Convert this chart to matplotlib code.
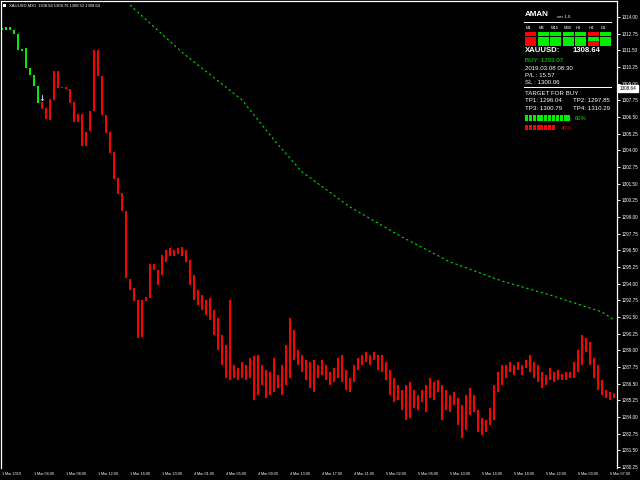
import matplotlib
matplotlib.use("Agg")
import matplotlib.pyplot as plt
from matplotlib.patches import Rectangle
import matplotlib.transforms as mtransforms

# ---------------- data (XAUUSD M30 bars: high / low) ----------------
highs = [1313.18, 1313.25, 1313.25, 1313.03, 1312.73, 1311.60, 1311.68, 1310.18, 1309.65, 1308.83,
         1307.63, 1307.18, 1307.85, 1309.95, 1309.95, 1308.75, 1308.75, 1308.60, 1307.63, 1306.73,
         1306.73, 1305.38, 1306.95, 1311.53, 1311.53, 1309.58, 1306.65, 1305.38, 1303.88, 1301.93,
         1300.80, 1299.45, 1294.35, 1293.68, 1292.78, 1292.78, 1293.00, 1295.48, 1295.48, 1295.03,
         1296.15, 1296.53, 1296.68, 1296.53, 1296.68, 1296.75, 1296.53, 1295.78, 1294.65, 1293.53,
         1293.15, 1292.78, 1292.93, 1292.03, 1291.43, 1290.15, 1289.40, 1292.78, 1287.90, 1287.68,
         1288.13, 1287.90, 1288.43, 1288.58, 1288.65, 1287.90, 1287.53, 1287.38, 1288.43, 1287.15,
         1287.90, 1289.40, 1291.43, 1290.53, 1289.03, 1288.65, 1288.28, 1288.13, 1288.28, 1287.90,
         1288.28, 1287.90, 1287.38, 1287.68, 1288.43, 1288.65, 1287.53, 1286.93, 1287.90, 1288.43,
         1288.65, 1288.88, 1288.65, 1288.88, 1288.65, 1288.65, 1288.13, 1287.53, 1286.93, 1286.40,
         1286.03, 1286.40, 1286.63, 1286.03, 1285.65, 1286.03, 1286.40, 1286.93, 1286.63, 1286.78,
         1286.40, 1286.03, 1285.65, 1285.88, 1285.43, 1284.90, 1285.65, 1286.18, 1285.65, 1284.53,
         1283.93, 1283.78, 1284.68, 1286.40, 1287.38, 1287.90, 1287.90, 1288.13, 1287.90, 1288.13,
         1287.90, 1288.28, 1288.65, 1288.13, 1287.90, 1287.38, 1287.15, 1287.68, 1287.38, 1287.53,
         1287.23, 1287.38, 1287.38, 1288.13, 1289.03, 1290.15, 1289.93, 1289.63, 1288.43, 1287.90,
         1286.78, 1286.03, 1285.88, 1285.80]
lows = [1313.03, 1313.03, 1313.03, 1312.73, 1311.53, 1311.45, 1310.18, 1309.65, 1308.83, 1307.55,
        1307.10, 1306.35, 1306.28, 1307.78, 1308.68, 1308.68, 1308.60, 1307.55, 1306.13, 1306.13,
        1304.33, 1304.33, 1305.45, 1306.95, 1309.58, 1306.65, 1305.30, 1303.80, 1301.85, 1300.73,
        1299.45, 1294.43, 1293.53, 1292.70, 1289.93, 1290.00, 1292.70, 1292.93, 1295.03, 1293.90,
        1294.65, 1295.63, 1296.08, 1296.08, 1296.23, 1296.08, 1295.63, 1293.90, 1292.78, 1292.40,
        1292.03, 1291.65, 1291.28, 1290.15, 1289.03, 1287.90, 1286.93, 1286.78, 1286.93, 1286.78,
        1286.93, 1286.78, 1286.93, 1285.28, 1285.65, 1286.40, 1285.43, 1285.65, 1285.88, 1286.18,
        1285.65, 1286.40, 1286.93, 1288.28, 1287.90, 1287.38, 1286.78, 1286.18, 1285.88, 1286.93,
        1287.15, 1286.78, 1286.40, 1286.63, 1286.93, 1286.63, 1286.03, 1285.88, 1286.63, 1287.53,
        1287.90, 1288.13, 1287.90, 1288.28, 1287.53, 1287.38, 1286.78, 1285.65, 1285.13, 1285.28,
        1284.53, 1283.78, 1283.93, 1284.68, 1284.53, 1285.13, 1284.38, 1285.43, 1285.28, 1285.88,
        1283.78, 1284.53, 1284.38, 1284.90, 1283.40, 1282.43, 1283.03, 1284.15, 1284.38, 1282.88,
        1282.65, 1282.88, 1283.40, 1283.78, 1285.88, 1286.40, 1286.93, 1287.38, 1287.15, 1287.53,
        1287.15, 1287.68, 1287.38, 1286.93, 1286.63, 1286.18, 1286.40, 1286.78, 1286.63, 1286.78,
        1286.78, 1286.78, 1286.93, 1286.93, 1287.38, 1287.90, 1288.88, 1287.90, 1286.93, 1286.03,
        1285.65, 1285.43, 1285.28, 1285.43]
n_up_bars = 10  # first bars coloured as up-trend (green), the rest red

ma_idx = [32, 45, 60, 68, 75, 87, 100, 112, 125, 137, 150, 153]
ma_vals = [1314.90, 1311.35, 1307.78, 1304.78, 1302.38, 1299.75, 1297.50, 1295.63,
           1294.20, 1293.15, 1291.88, 1291.28]

yticks = [1314.00, 1312.75, 1311.50, 1310.25, 1309.00, 1307.75, 1306.50, 1305.25,
          1304.00, 1302.75, 1301.50, 1300.25, 1299.00, 1297.75, 1296.50, 1295.25,
          1294.00, 1292.75, 1291.50, 1290.25, 1289.00, 1287.75, 1286.50, 1285.25,
          1284.00, 1282.75, 1281.50, 1280.25]
current_price = 1308.64

xlabels = ["1 Mar 2019", "1 Mar 04:00", "1 Mar 08:00", "1 Mar 12:00", "1 Mar 16:00",
           "1 Mar 20:00", "4 Mar 01:00", "4 Mar 05:00", "4 Mar 09:00", "4 Mar 13:00",
           "4 Mar 17:00", "4 Mar 21:00", "5 Mar 02:00", "5 Mar 06:00", "5 Mar 10:00",
           "5 Mar 14:00", "5 Mar 18:00", "5 Mar 22:00", "6 Mar 03:00", "6 Mar 07:00"]
xlabel_step = 8

tf_labels = ["M1", "M5", "M15", "M30", "H1", "H4", "D1"]
tf_signal = [[0, 1, 1, 1, 1, 0, 1],
             [0, 1, 1, 1, 1, 1, 1],
             [0, 1, 1, 1, 1, 0, 1]]
buy_pct, sell_pct = 60, 40

# ---------------- drawing ----------------
GREEN = "#00ee00"
RED = "#ff0000"
FONT = "Liberation Sans"

fig = plt.figure(figsize=(6.4, 4.8), dpi=100, facecolor="black")
W, H = 640.0, 480.0
ax_left, ax_right, ax_top, ax_bot = 1, 617, 1, 468
ax = fig.add_axes([ax_left / W, 1 - ax_bot / H, (ax_right - ax_left) / W, (ax_bot - ax_top) / H])
ax.set_facecolor("black")
n = len(highs)
ax.set_xlim(-0.25, n - 0.25)
ax.set_ylim(1280.175, 1315.20)

idx = list(range(n))
cols = [GREEN if i < n_up_bars else RED for i in idx]
ax.bar(idx, [h - l for h, l in zip(highs, lows)], bottom=lows, width=0.5,
       color=cols, linewidth=0, antialiased=False)

ax.plot(ma_idx, ma_vals, color="#00dd00", lw=0.8, linestyle=(0, (2, 2.5)))

# sell arrow
ax.text(9.9, 1307.9, "\u2193", color="#b0d0f0", fontsize=6, ha="center", va="center",
        fontweight="bold")

for s in ["left", "top", "right"]:
    ax.spines[s].set_color("white")
    ax.spines[s].set_linewidth(0.9)
ax.spines["bottom"].set_visible(False)
ax.set_xticks([])
ax.yaxis.tick_right()
ax.set_yticks(yticks)
ax.set_yticklabels([f"{v:.2f}" for v in yticks], fontfamily=FONT)
ax.tick_params(axis="y", colors="white", length=2.2, width=0.7, labelsize=3.3, pad=1.0)

# current price tag
trans = mtransforms.blended_transform_factory(ax.transAxes, ax.transData)
ax.text(1.0045, current_price, f"{current_price:.2f}", transform=trans, color="black",
        fontsize=3.3, fontfamily=FONT, va="center", ha="left", clip_on=False,
        bbox=dict(boxstyle="square,pad=0.3", fc="white", ec="white"))

# time labels
transx = mtransforms.blended_transform_factory(ax.transData, fig.transFigure)
for k, lab in enumerate(xlabels):
    ax.text(k * xlabel_step - 0.1, 1 - 474 / H, lab, transform=transx, color="white",
            fontsize=2.7, fontfamily=FONT, ha="left", va="center", clip_on=False)

def T(x, y, s, **kw):
    kw.setdefault("color", "white")
    kw.setdefault("fontfamily", FONT)
    kw.setdefault("va", "center")
    kw.setdefault("ha", "left")
    fig.text(x / W, 1 - y / H, s, **kw)

def R(x, y, w, h, c):
    fig.patches.append(Rectangle((x / W, 1 - (y + h) / H), w / W, h / H,
                                 transform=fig.transFigure, fc=c, ec="none"))

# header line
R(3, 4, 3, 3, "white")
T(9, 5.5, "XAUUSD,M30  1308.58 1308.76 1308.52 1308.64", fontsize=3.0)

# info panel
T(525, 15, "AMAN", fontsize=5.8, fontweight="bold")
T(557, 16.5, "ver 1.0", fontsize=3.2)
R(524, 22.3, 88, 0.9, "white")
col_x = [525, 537.5, 550, 562.5, 575, 587.5, 600]
for x, lab in zip(col_x, tf_labels):
    T(x + 1, 28.2, lab, fontsize=3.0)
for r, row in enumerate(tf_signal):
    for c, v in enumerate(row):
        R(col_x[c], 31.6 + r * 4.9, 11.3, 4.1, GREEN if v else RED)
T(525, 51, "XAUUSD:", fontsize=5.6, fontweight="bold")
T(573, 51, f"{current_price:.2f}", fontsize=5.6, fontweight="bold")
T(525, 60.8, "BUY: 1293.07", fontsize=4.4, color=GREEN)
T(525, 68.3, "2019.03.08 08:30", fontsize=4.4)
T(525, 75.3, "P/L : 15.57", fontsize=4.4)
T(525, 82.7, "SL : 1300.06", fontsize=4.4)
R(524, 87.3, 88, 0.9, "white")
T(525, 93.5, "TARGET FOR BUY", fontsize=4.4)
T(525, 100.5, "TP1: 1296.04", fontsize=4.4)
T(573, 100.5, "TP2: 1297.85", fontsize=4.4)
T(525, 108, "TP3: 1300.79", fontsize=4.4)
T(573, 108, "TP4: 1310.29", fontsize=4.4)
for k in range(buy_pct // 5):
    R(525 + k * 3.85, 115.3, 3.0, 5.3, GREEN)
T(575, 118, f"{buy_pct}%", fontsize=4.2, color=GREEN)
for k in range(sell_pct // 5):
    R(525 + k * 3.85, 125.3, 3.0, 5.0, RED)
T(561, 128, f"{sell_pct}%", fontsize=4.2, color=RED)

fig.savefig("out.png", dpi=100, facecolor="black")
